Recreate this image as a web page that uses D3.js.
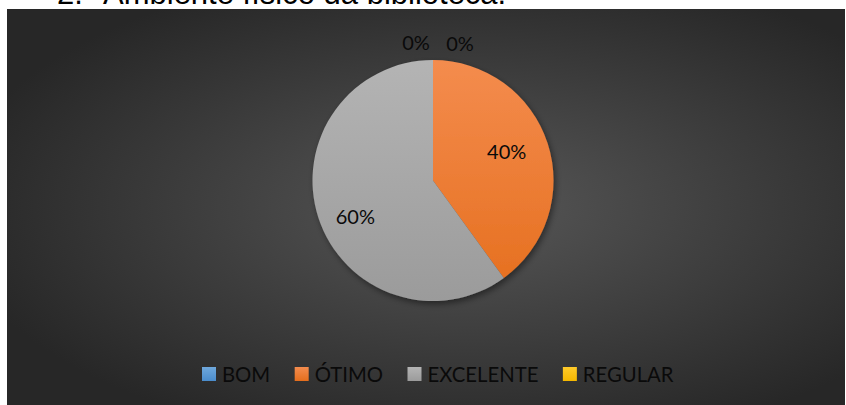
<!DOCTYPE html>
<html><head><meta charset="utf-8">
<script src="https://cdn.jsdelivr.net/npm/d3@7"></script>
<style>
html,body{margin:0;padding:0;background:#fff;}
svg{display:block;}
</style></head>
<body>
<svg id="chart" width="846" height="405"></svg>
<script>
// ---- data ----
const categories = ["BOM", "ÓTIMO", "EXCELENTE", "REGULAR"];
const values = [0, 40, 60, 0];
const valueLabels = ["0%", "40%", "60%", "0%"];
const titleNumber = "2.";
const titleText = "Ambiente físico da biblioteca.";

// ---- styles ----
const colorTop = ["#6fa8dc", "#f48c4e", "#b4b4b4", "#ffcb2a"];
const colorBottom = ["#4a8ccc", "#e56e1d", "#9b9b9b", "#f5b800"];
const labelNudgeX = [27, -2, -2, -17];
const labelNudgeY = [2, -5, 11, 1];
const plot = {x: 7, y: 9, w: 838, h: 396};
const cx = 433, cy = 180.5, R = 120.5;
const fontFam = "Lato, 'Open Sans', sans-serif";

const svg = d3.select("#chart");
const defs = svg.append("defs");

const bg = defs.append("radialGradient").attr("id", "bg")
  .attr("cx", "55%").attr("cy", "50%").attr("r", "62%");
bg.append("stop").attr("offset", "0%").attr("stop-color", "#575757");
bg.append("stop").attr("offset", "100%").attr("stop-color", "#272727");

categories.forEach((c, i) => {
  const g = defs.append("linearGradient").attr("id", "g" + i)
    .attr("gradientUnits", "userSpaceOnUse")
    .attr("x1", 0).attr("y1", -R).attr("x2", 0).attr("y2", R);
  g.append("stop").attr("offset", "0%").attr("stop-color", colorTop[i]);
  g.append("stop").attr("offset", "100%").attr("stop-color", colorBottom[i]);
  const s = defs.append("linearGradient").attr("id", "s" + i)
    .attr("x1", 0).attr("y1", 0).attr("x2", 0).attr("y2", 1);
  s.append("stop").attr("offset", "0%").attr("stop-color", colorTop[i]);
  s.append("stop").attr("offset", "100%").attr("stop-color", colorBottom[i]);
});

const sh = defs.append("filter").attr("id", "shadow")
  .attr("x", "-20%").attr("y", "-20%").attr("width", "140%").attr("height", "140%");
sh.append("feDropShadow").attr("dx", 2).attr("dy", 3).attr("stdDeviation", 3)
  .attr("flood-color", "#000").attr("flood-opacity", 0.45);

// title (cut off at top, as in the reference)
svg.append("text").attr("x", 57).attr("y", 3.5)
  .attr("font-family", "'Liberation Sans', Arial, sans-serif").attr("font-size", 31)
  .attr("fill", "#000").text(titleNumber);
svg.append("text").attr("x", 103).attr("y", 3.5)
  .attr("font-family", "'Liberation Sans', Arial, sans-serif").attr("font-size", 31)
  .attr("fill", "#000").text(titleText);

// chart area
svg.append("rect").attr("x", plot.x).attr("y", plot.y)
  .attr("width", plot.w).attr("height", plot.h).attr("fill", "url(#bg)");

// pie
const pie = d3.pie().sort(null).value(d => d);
const arcs = pie(values);
const arc = d3.arc().innerRadius(0).outerRadius(R);
const labelArc = d3.arc().innerRadius(R * 0.66).outerRadius(R * 0.66);
const outerArc = d3.arc().innerRadius(R + 19).outerRadius(R + 19);

const g = svg.append("g").attr("transform", `translate(${cx},${cy})`);
g.append("g").attr("filter", "url(#shadow)")
  .selectAll("path").data(arcs).join("path")
  .attr("d", arc)
  .attr("fill", (d, i) => `url(#g${i})`);

// labels
g.selectAll("text.lbl").data(arcs).join("text")
  .attr("class", "lbl")
  .attr("transform", (d, i) => {
    const p = d.value === 0 ? outerArc.centroid(d) : labelArc.centroid(d);
    return `translate(${p[0] + labelNudgeX[i]},${p[1] + labelNudgeY[i]})`;
  })
  .attr("text-anchor", "middle").attr("dominant-baseline", "central")
  .attr("font-family", fontFam).attr("font-size", 20)
  .attr("fill", "#0a0a0a")
  .text((d, i) => valueLabels[i]);

// legend
const lg = svg.append("g");
const items = lg.selectAll("g").data(categories).join("g");
items.append("rect").attr("width", 14).attr("height", 14).attr("y", -7)
  .attr("fill", (d, i) => `url(#s${i})`);
items.append("text").attr("x", 20).attr("y", 0)
  .attr("dominant-baseline", "central")
  .attr("font-family", fontFam).attr("font-size", 20.3)
  .attr("fill", "#0a0a0a").text(d => d);
let xs = [], acc = 0;
items.each(function(d, i) {
  const w = 20 + this.querySelector("text").getComputedTextLength();
  xs.push(acc);
  acc += w + 24.5;
});
const lx0 = 202;
items.attr("transform", (d, i) => `translate(${lx0 + xs[i]},${374})`);
</script>
</body></html>
